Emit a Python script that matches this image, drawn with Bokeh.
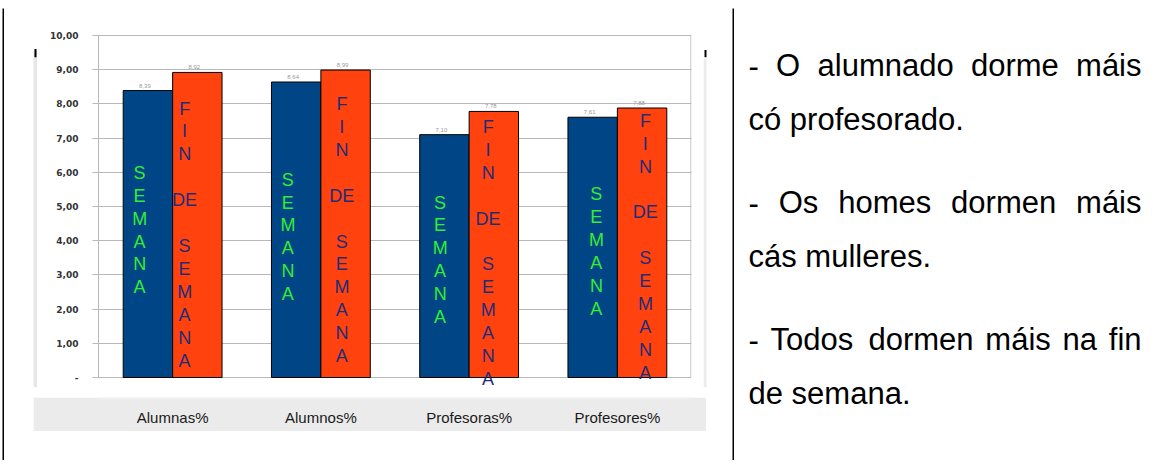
from bokeh.plotting import figure
from bokeh.models import ColumnDataSource, Range1d, FactorRange, FixedTicker, Spacer, LabelSet
from bokeh.layouts import row, column
from bokeh.transform import dodge
from bokeh.core.properties import value
from bokeh.embed import file_html
from bokeh.resources import INLINE

# ---------------- data ----------------
categories = ["Alumnas%", "Alumnos%", "Profesoras%", "Profesores%"]
semana = [8.39, 8.64, 7.10, 7.61]
fin_de_semana = [8.92, 8.99, 7.78, 7.88]
y_ticks = [0, 1, 2, 3, 4, 5, 6, 7, 8, 9, 10]
y_tick_labels = ["-", "1,00", "2,00", "3,00", "4,00", "5,00", "6,00", "7,00", "8,00", "9,00", "10,00"]
bar_text_semana = "S\nE\nM\nA\nN\nA"
bar_text_fin = "F\nI\nN\n\nDE\n\nS\nE\nM\nA\nN\nA"
notes = [
    ["- O alumnado dorme máis", "có profesorado."],
    ["- Os homes dormen máis", "cás mulleres."],
    ["- Todos dormen máis na fin", "de semana."],
]

# ---------------- layout / style ----------------
BLUE = "#004586"
ORANGE = "#ff420e"
GRID = "#b8b8b8"
BAND = "#ebebeb"
FONT = value("Liberation Sans")
PX_PER_UNIT = 34.2  # vertical scale of the chart

# in-bar text placement (block centre in data units, x offset in px from category centre)
semana_text_y = [4.31, 4.11, 3.44, 3.68]
fin_text_y = [4.18, 4.31, 3.64, 3.82]
semana_text_dx = [-33, -33, -29, -21]
fin_text_dx = [12, 21, 19, 28]
LINE_STEP = 0.67  # vertical distance between stacked letters, in data units


def fig(w, h, **kw):
    base = dict(width=w, height=h, toolbar_location=None, output_backend="svg",
                min_border=0, outline_line_color=None)
    base.update(kw)
    return figure(**base)


def black_box(w, h):
    return fig(w, h, x_range=Range1d(0, 1), y_range=Range1d(0, 1),
               x_axis_type=None, y_axis_type=None,
               background_fill_color="black", border_fill_color="black")


def fmt(v):
    return f"{v:.2f}".replace(".", ",")


def stacked(text, centres, dxs):
    lines = text.split("\n")
    n = len(lines)
    out = dict(cat=[], y=[], t=[], dx=[])
    for cat, yc, dx in zip(categories, centres, dxs):
        for j, ln in enumerate(lines):
            if ln:
                out["cat"].append(cat)
                out["y"].append(yc + ((n - 1) / 2 - j) * LINE_STEP)
                out["t"].append(ln)
                out["dx"].append(dx)
    return ColumnDataSource(out)


# ---------------- chart ----------------
x_range = FactorRange(factors=categories)
src = ColumnDataSource(dict(
    cat=categories,
    semana=semana,
    fin=fin_de_semana,
    semana_lbl=[fmt(v) for v in semana],
    fin_lbl=[fmt(v) for v in fin_de_semana],
))

# frame extends 1px above 10 and 10px below 0 so that overflowing letters stay visible
y_range = Range1d(-10 / PX_PER_UNIT, 10 + 1 / PX_PER_UNIT)
p = fig(666, 389, x_range=x_range, y_range=y_range, x_axis_type=None,
        min_border_left=61, min_border_right=12, min_border_top=26, min_border_bottom=10,
        background_fill_color="white", border_fill_color="white")

yax = p.yaxis[0]
yax.ticker = FixedTicker(ticks=y_ticks)
yax.bounds = (0, 10)
yax.major_label_overrides = {t: l for t, l in zip(y_ticks, y_tick_labels)}
yax.axis_line_color = GRID
yax.major_tick_line_color = GRID
yax.major_tick_in = 0
yax.major_tick_out = 6
yax.minor_tick_line_color = None
yax.major_label_standoff = 14
yax.major_label_text_font = "DejaVu Sans"
yax.major_label_text_font_style = "bold"
yax.major_label_text_font_size = "9px"
yax.major_label_text_color = "#333333"
p.ygrid.grid_line_color = GRID

# right edge of the plot area
n_cat = len(categories)
p.segment(x0=[n_cat - 0.004], y0=[0], x1=[n_cat - 0.004], y1=[10], line_color=GRID, line_width=1)

BW = 0.3333
p.vbar(x=dodge("cat", -BW / 2, range=x_range), top="semana", width=BW, source=src,
       fill_color=BLUE, line_color="black", line_width=1)
p.vbar(x=dodge("cat", BW / 2, range=x_range), top="fin", width=BW, source=src,
       fill_color=ORANGE, line_color="black", line_width=1)

p.text(x=dodge("cat", -BW / 2, range=x_range), y="semana", text="semana_lbl", source=src,
       text_align="center", text_baseline="bottom", x_offset=-3, y_offset=-3,
       text_font=FONT, text_font_size="6px", text_color="#999999")
p.text(x=dodge("cat", BW / 2, range=x_range), y="fin", text="fin_lbl", source=src,
       text_align="center", text_baseline="bottom", x_offset=-3, y_offset=-3,
       text_font=FONT, text_font_size="6px", text_color="#999999")

p.add_layout(LabelSet(x="cat", y="y", text="t", x_offset="dx",
                      source=stacked(bar_text_semana, semana_text_y, semana_text_dx),
                      text_align="center", text_baseline="middle",
                      text_font=FONT, text_font_size="18px", text_color="#33ee33"))
p.add_layout(LabelSet(x="cat", y="y", text="t", x_offset="dx",
                      source=stacked(bar_text_fin, fin_text_y, fin_text_dx),
                      text_align="center", text_baseline="middle",
                      text_font=FONT, text_font_size="18px", text_color="#1f2d78"))

# category band (shares x range, carries the category axis)
band = fig(673, 34, x_range=x_range, y_range=Range1d(0, 1), y_axis_type=None,
           min_border_left=65, min_border_right=15, min_border_top=0, min_border_bottom=33,
           background_fill_color=BAND, border_fill_color=BAND)
xax = band.xaxis[0]
xax.axis_line_color = None
xax.major_tick_line_color = None
xax.major_tick_in = 0
xax.major_tick_out = 0
xax.major_label_standoff = 10
xax.major_label_text_font = "Liberation Sans"
xax.major_label_text_font_size = "15px"
xax.major_label_text_color = "#1a1a1a"

# side decorations of the embedded chart picture (page coordinates)
left_dec = fig(33, 389, x_range=Range1d(4, 37), y_range=Range1d(397, 8),
               x_axis_type=None, y_axis_type=None,
               background_fill_color="white", border_fill_color="white")
left_dec.quad(left=[33], right=[37], top=[25], bottom=[397], fill_color="#e6e6e6", line_color=None)
left_dec.quad(left=[34], right=[36], top=[24], bottom=[33], fill_color="black", line_color=None)

right_dec = fig(29, 389, x_range=Range1d(703, 732), y_range=Range1d(397, 8),
                x_axis_type=None, y_axis_type=None,
                background_fill_color="white", border_fill_color="white")
right_dec.quad(left=[703], right=[706], top=[35], bottom=[397], fill_color="#ececec", line_color=None)
right_dec.quad(left=[704], right=[706], top=[25], bottom=[33], fill_color="black", line_color=None)

# ---------------- right text cell ----------------
W = {" ": 278, "-": 333, ".": 278, "O": 778, "T": 611, "a": 556, "c": 500, "d": 556,
     "e": 556, "f": 278, "h": 556, "i": 222, "l": 222, "m": 833, "n": 556, "o": 556,
     "p": 556, "r": 333, "s": 500, "u": 556, "á": 556, "ó": 556}
FS = 31
X0, X1 = 748, 1141
BASE0, LINE_GAP, PARA_GAP = 65, 53.5, 137


def width(s):
    return sum(W.get(ch, 556) for ch in s) * FS / 1000.0


wx, wy, wt = [], [], []
for pi, para in enumerate(notes):
    for li, line in enumerate(para):
        y = BASE0 + pi * PARA_GAP + li * LINE_GAP
        words = line.split(" ")
        justify = li < len(para) - 1 and len(words) > 1
        if justify:
            gap = (X1 - X0 - sum(width(w) for w in words)) / (len(words) - 1)
        else:
            gap = width(" ")
        x = X0
        for w in words:
            wx.append(x)
            wy.append(y)
            wt.append(w)
            x += width(w) + gap

txt = fig(410, 452, x_range=Range1d(734, 1144), y_range=Range1d(460, 8),
          x_axis_type=None, y_axis_type=None,
          background_fill_color="white", border_fill_color="white")
txt.text(x=wx, y=wy, text=wt, text_align="left", text_baseline="alphabetic",
         text_font=FONT, text_font_size=f"{FS}px", text_color="black")

# ---------------- assemble ----------------
chart_row = row(left_dec, p, right_dec, spacing=0)
band_row = row(Spacer(width=29, height=34), band, Spacer(width=26, height=34), spacing=0)
left_cell = column(chart_row, band_row, Spacer(width=728, height=29), spacing=0)
body = row(Spacer(width=2, height=452), black_box(2, 452), left_cell, black_box(2, 452), txt, spacing=0)
top = row(Spacer(width=2, height=2), black_box(1142, 2), spacing=0)
page = column(Spacer(width=1144, height=6), top, body, spacing=0)

open("out.html", "w").write(file_html(page, INLINE))
